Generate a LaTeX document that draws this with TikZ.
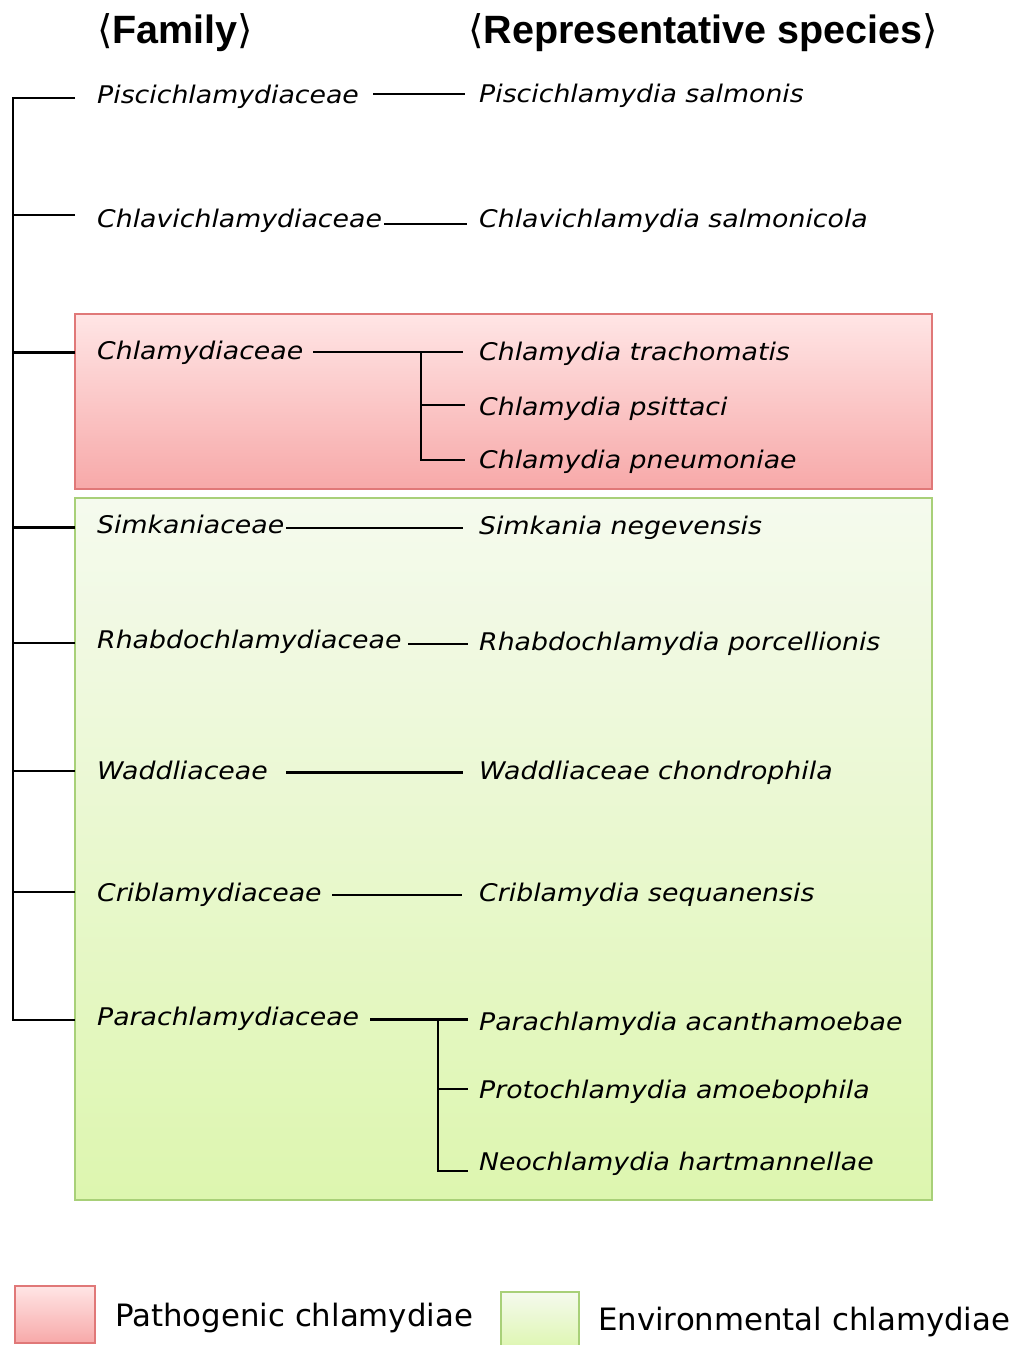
\documentclass[tikz,border=0pt]{standalone}
\usepackage{fontspec}
\setmainfont{DejaVu Sans}
\newfontfamily\labfont{DejaVu Sans}[FakeStretch=1.1]
\newfontfamily\hdfont{Liberation Sans}
\newfontfamily\brfont{DejaVu Sans}
\newfontfamily\legfont{DejaVu Sans}
\definecolor{pinkTop}{HTML}{FFE5E5}
\definecolor{pinkBot}{HTML}{F7A9A9}
\definecolor{pinkLine}{HTML}{E07878}
\definecolor{greenTop}{HTML}{F5FAEE}
\definecolor{greenBot}{HTML}{DDF6AF}
\definecolor{greenLine}{HTML}{A8D078}
\begin{document}
\begin{tikzpicture}[x=1pt,y=-1pt,
  tree/.style={line width=2.4pt,black,line join=miter},
  txt/.style={anchor=base west,inner sep=0pt,font=\labfont\itshape\fontsize{24.3}{28}\selectfont},
  hd/.style={anchor=base west,inner sep=0pt,font=\hdfont\bfseries\fontsize{39.5}{44}\selectfont},
  leg/.style={anchor=base west,inner sep=0pt,font=\legfont\fontsize{30.8}{36}\selectfont},
  pinkbox/.style={draw=pinkLine,line width=1.5pt,top color=pinkTop,bottom color=pinkBot},
  greenbox/.style={draw=greenLine,line width=1.5pt,top color=greenTop,bottom color=greenBot}]
\useasboundingbox[fill=white] (0,0) rectangle (1010,1345);

% background group boxes
\path[pinkbox] (75,314) rectangle (932,489);
\path[greenbox] (75,498) rectangle (932,1200);

% headers
\node[hd] (h1) at (97,43) {{\brfont\mdseries ⟨}Family{\brfont\mdseries ⟩}};
\node[hd] (h2) at (468,43) {{\brfont\mdseries ⟨}Representative species{\brfont\mdseries ⟩}};

% families
\node[txt] (f1) at (97,103) {Piscichlamydiaceae};
\node[txt] (f2) at (97,227) {Chlavichlamydiaceae};
\node[txt] (f3) at (97,359) {Chlamydiaceae};
\node[txt] (f4) at (97,533) {Simkaniaceae};
\node[txt] (f5) at (97,648) {Rhabdochlamydiaceae};
\node[txt] (f6) at (97,779) {Waddliaceae};
\node[txt] (f7) at (97,901) {Criblamydiaceae};
\node[txt] (f8) at (97,1025) {Parachlamydiaceae};

% species
\node[txt] (s1) at (479,102) {Piscichlamydia salmonis};
\node[txt] (s2) at (479,227) {Chlavichlamydia salmonicola};
\node[txt] (s3) at (479,360) {Chlamydia trachomatis};
\node[txt] (s4) at (479,415) {Chlamydia psittaci};
\node[txt] (s5) at (479,468) {Chlamydia pneumoniae};
\node[txt] (s6) at (479,534) {Simkania negevensis};
\node[txt] (s7) at (479,650) {Rhabdochlamydia porcellionis};
\node[txt] (s8) at (479,779) {Waddliaceae chondrophila};
\node[txt] (s9) at (479,901) {Criblamydia sequanensis};
\node[txt] (s10) at (479,1030) {Parachlamydia acanthamoebae};
\node[txt] (s11) at (479,1098) {Protochlamydia amoebophila};
\node[txt] (s12) at (479,1170) {Neochlamydia hartmannellae};

% trunk and ticks
\coordinate (rt) at (13,1020);
\coordinate (k1) at (75,98);
\coordinate (k2) at (75,215);
\coordinate (k3) at (75,352.5);
\coordinate (k4) at (75,527.5);
\coordinate (k5) at (75,642.7);
\coordinate (k6) at (75,770.7);
\coordinate (k7) at (75,891.7);
\coordinate (k8) at (75,1020);
\draw[tree] (k1) -| (rt) -- (k8);
\foreach \k in {k2,k3,k4,k5,k6,k7} \draw[tree] (\k) -- (\k -| rt);

% family -> species connectors
\coordinate (a1) at (373,94);   \coordinate (b1) at (465,94);
\coordinate (a2) at (384,224);  \coordinate (b2) at (467,224);
\coordinate (a3) at (313,352);  \coordinate (b3) at (463,352);
\coordinate (a4) at (286,528);  \coordinate (b4) at (463,528);
\coordinate (a5) at (408,644);  \coordinate (b5) at (468,644);
\coordinate (a6) at (286,772.5);\coordinate (b6) at (463,772.5);
\coordinate (a7) at (332,895);  \coordinate (b7) at (462,895);
\coordinate (a8) at (370,1019.5);\coordinate (b8) at (468,1019.5);
\foreach \i in {1,...,8} \draw[tree] (a\i) -- (b\i);

% Chlamydiaceae bracket
\coordinate (v3) at (421,352);
\coordinate (b3b) at (465,405);
\coordinate (b3c) at (465,460);
\draw[tree] (v3) |- (b3c);
\draw[tree] (b3b -| v3) -- (b3b);

% Parachlamydiaceae bracket
\coordinate (v8) at (438,1019.5);
\coordinate (b8b) at (468,1089);
\coordinate (b8c) at (468,1171);
\draw[tree] (v8) |- (b8c);
\draw[tree] (b8b -| v8) -- (b8b);

% legend
\path[pinkbox] (15,1286) rectangle (95,1343);
\node[leg] (l1) at (115,1326) {Pathogenic chlamydiae};
\path[greenbox] (501,1292) rectangle (579,1350);
\node[leg] (l2) at (598,1330) {Environmental chlamydiae};
\end{tikzpicture}
\end{document}
